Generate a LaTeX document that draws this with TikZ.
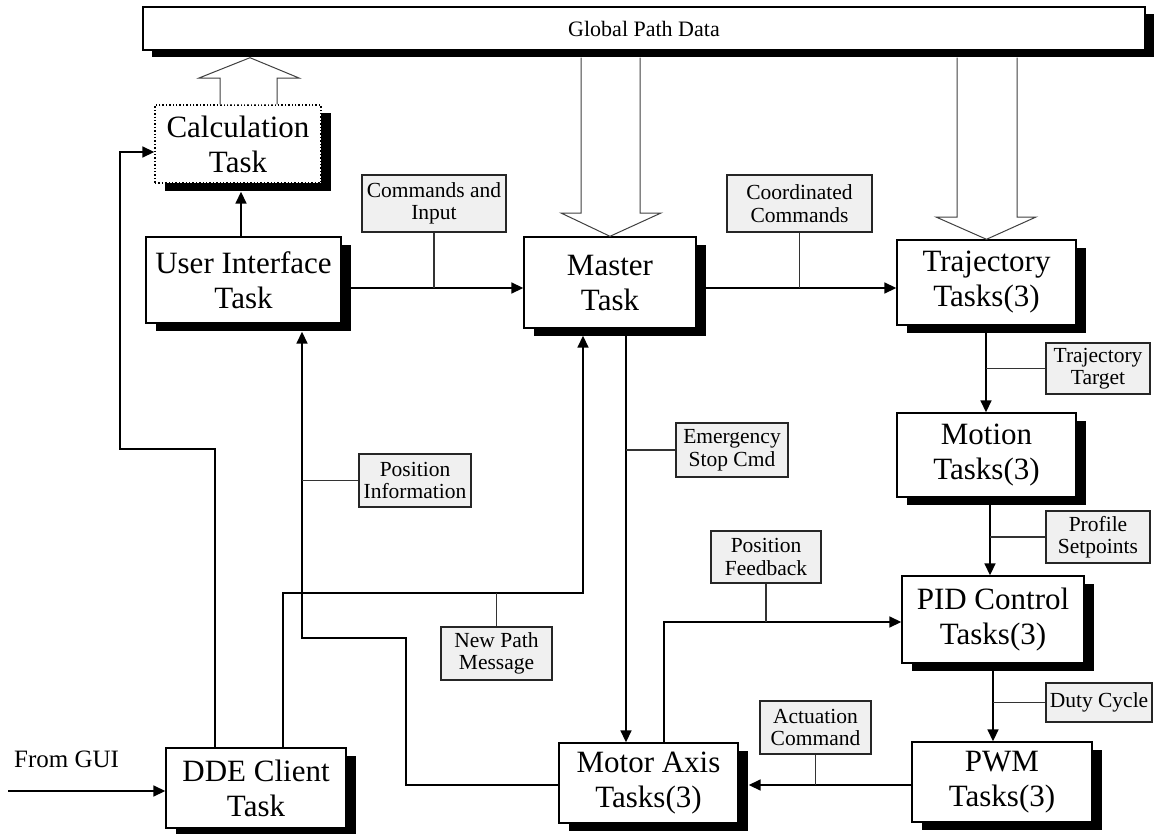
\documentclass[tikz,border=0pt]{standalone}
\usepackage{fontspec}
\setmainfont{Liberation Serif}
\usetikzlibrary{arrows.meta,shadows}
\begin{document}
\begin{tikzpicture}[x=1pt,y=-1pt,
  task/.style={draw=black,line width=1.4pt,fill=white,inner sep=0pt,align=center,
     font=\fontsize{31}{35}\selectfont,
     drop shadow={shadow xshift=10pt,shadow yshift=-8pt,fill=black,opacity=1}},
  lbl/.style={draw=black!85,line width=1.1pt,fill={rgb,255:red,240;green,240;blue,240},
     inner sep=0pt,align=center,font=\fontsize{21.5}{22.5}\selectfont},
  conn/.style={line width=1.7pt,-{Triangle[length=12pt,width=11pt]}},
  wire/.style={line width=1.7pt},
  tick/.style={line width=1.1pt,draw=black!80},
  hollow/.style={line width=1pt,draw=black!75,fill=white}
]
\useasboundingbox (0,0) rectangle (1154,833);

% Global data bar
\node[draw=black,line width=1.4pt,fill=white,inner sep=0pt,minimum width=1002pt,minimum height=43pt,
  drop shadow={shadow xshift=9pt,shadow yshift=-7pt,fill=black,opacity=1},
  font=\fontsize{22}{24}\selectfont] (bar) at (644,28.5) {Global Path Data};

% Task boxes
\node[task,dotted,minimum width=166pt,minimum height=78pt] (calc) at (238,144) {Calculation\\Task};
\node[task,minimum width=195pt,minimum height=86pt] (ui) at (243.5,280) {User Interface\\Task};
\node[task,minimum width=172pt,minimum height=91pt] (master) at (610,282.5) {Master\\Task};
\node[task,minimum width=179pt,minimum height=85pt] (traj) at (986.5,282.5) {Trajectory\\Tasks(3)};
\node[task,minimum width=179pt,minimum height=84pt] (motion) at (986.5,455) {Motion\\Tasks(3)};
\node[task,minimum width=182pt,minimum height=87pt] (pid) at (993,619.5) {PID Control\\Tasks(3)};
\node[task,minimum width=180pt,minimum height=80pt] (pwm) at (1002,782) {PWM\\Tasks(3)};
\node[task,minimum width=179pt,minimum height=80pt] (motor) at (648.5,783) {Motor Axis\\Tasks(3)};
\node[task,minimum width=180pt,minimum height=80pt] (dde) at (256,788) {DDE Client\\Task};

% Label boxes
\node[lbl,minimum width=144pt,minimum height=57pt] (cmd) at (434,203.5) {Commands and\\Input};
\node[lbl,minimum width=145pt,minimum height=57pt] (coord) at (799.5,203.5) {Coordinated\\Commands};
\node[lbl,minimum width=104pt,minimum height=51pt] (ttgt) at (1098,368.5) {Trajectory\\Target};
\node[lbl,minimum width=112pt,minimum height=54pt] (emerg) at (732,450) {Emergency\\Stop Cmd};
\node[lbl,minimum width=112pt,minimum height=53pt] (posinfo) at (415,480.5) {Position\\Information};
\node[lbl,minimum width=104pt,minimum height=52pt] (prof) at (1098,537) {Profile\\Setpoints};
\node[lbl,minimum width=110pt,minimum height=52pt] (posfb) at (766,557) {Position\\Feedback};
\node[lbl,minimum width=106pt,minimum height=39pt] (duty) at (1099,702.5) {Duty Cycle};
\node[lbl,minimum width=111pt,minimum height=53pt] (act) at (815.5,727.5) {Actuation\\Command};
\node[lbl,minimum width=111pt,minimum height=53pt] (newp) at (496.5,653.5) {New Path\\Message};

\node[font=\fontsize{25}{28}\selectfont,anchor=base west,inner sep=0pt] (gui) at (14,767) {From GUI};

% helper coordinates
\coordinate (barsh) at ([yshift=-7pt]bar.south);
\coordinate (calcb) at ([yshift=-8pt]calc.south);
\coordinate (uib) at ([yshift=-8pt]ui.south);
\coordinate (masb) at ([yshift=-7pt]master.south);
\coordinate (yA) at (0,288);
\coordinate (yB) at (0,785);
\coordinate (xT) at (986,0);
\coordinate (xM) at (990,0);
\coordinate (xP) at (993,0);
\coordinate (xF) at (664,0);
\coordinate (yF) at (0,622);
\coordinate (xE) at (626,0);
\coordinate (xU) at (241,0);
\coordinate (xD1) at (215,0);
\coordinate (yC) at (0,449);
\coordinate (xL) at (120,0);
\coordinate (yCal) at (0,152);
\coordinate (xD2) at (283,0);
\coordinate (yN) at (0,593);
\coordinate (xN) at (583,0);
\coordinate (xR) at (406,0);
\coordinate (yR) at (0,638);
\coordinate (xU2) at (302,0);
\coordinate (guis) at (8,791);

% hollow block arrows
\draw[hollow] (calc.north -| 220,0) -- (220,78) -- (199,78) -- (barsh -| 250,0) -- (299,78) -- (277,78) -- (calc.north -| 277,0);
\draw[hollow] (barsh -| 581,0) -- (581,213) -- (561,213) -- (master.north) -- (661,213) -- (640,213) -- (barsh -| 640,0);
\draw[hollow] (barsh -| 957,0) -- (957,217) -- (936,217) -- (traj.north) -- (1036,217) -- (1017,217) -- (barsh -| 1017,0);

% connectors
\draw[conn] (ui.east |- yA) -- (master.west |- yA);
\draw[tick] (cmd.south) -- (cmd.south |- yA);
\draw[conn] (master.east |- yA) -- (traj.west |- yA);
\draw[tick] (coord.south) -- (coord.south |- yA);

\draw[conn] (traj.south -| xT) -- (motion.north -| xT);
\draw[tick] (ttgt.west) -- (ttgt.west -| xT);
\draw[conn] (motion.south -| xM) -- (pid.north -| xM);
\draw[tick] (prof.west) -- (prof.west -| xM);
\draw[conn] (pid.south -| xP) -- (pwm.north -| xP);
\draw[tick] (duty.west) -- (duty.west -| xP);

\draw[conn] (pwm.west |- yB) -- ([xshift=10pt]motor.east |- yB);
\draw[tick] (act.south) -- (act.south |- yB);

\draw[conn] (motor.north -| xF) |- (pid.west |- yF);
\draw[tick] (posfb.south) -- (posfb.south |- yF);

\draw[conn] (master.south -| xE) -- (motor.north -| xE);
\draw[tick] (emerg.west) -- (emerg.west -| xE);

\draw[conn] (ui.north -| xU) -- (calcb -| xU);

\draw[conn] (dde.north -| xD1) -- (xD1 |- yC) -- (xL |- yC) -- (xL |- yCal) -- (calc.west |- yCal);

\draw[conn] (dde.north -| xD2) -- (xD2 |- yN) -- (xN |- yN) -- (masb -| xN);
\draw[tick] (newp.north) -- (newp.north |- yN);

\draw[conn] (motor.west |- yB) -- (xR |- yB) -- (xR |- yR) -- (xU2 |- yR) -- (uib -| xU2);
\draw[tick] (posinfo.west) -- (posinfo.west -| xU2);

\draw[conn] (guis) -- (dde.west |- guis);
\end{tikzpicture}
\end{document}
